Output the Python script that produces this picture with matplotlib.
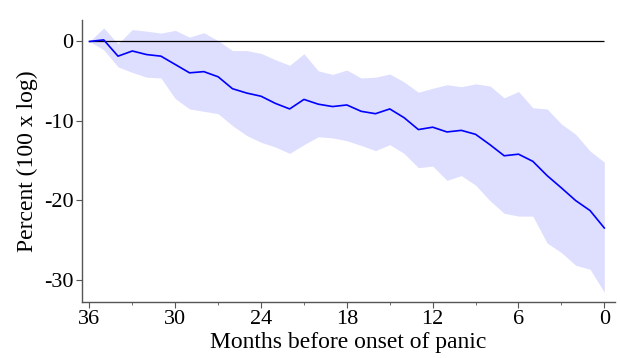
import numpy as np
import matplotlib
matplotlib.use('Agg')
import matplotlib.pyplot as plt

# months before the onset of panic, 36 down to 0
months = list(range(36, -1, -1))

# point estimate (percent, 100 x log)
estimate = [0.0, 0.2, -1.85, -1.2, -1.65, -1.85, -2.9, -3.95, -3.8, -4.45,
            -5.95, -6.5, -6.9, -7.8, -8.5, -7.3, -7.9, -8.2, -8.0, -8.8,
            -9.1, -8.5, -9.6, -11.1, -10.8, -11.4, -11.2, -11.7, -13.0, -14.4,
            -14.2, -15.1, -16.9, -18.45, -20.05, -21.3, -23.5]

# confidence band
upper = [0.0, 1.7, -0.3, 1.5, 1.3, 1.05, 1.4, 0.55, 1.1, 0.1,
         -1.15, -1.15, -1.5, -2.3, -3.0, -1.55, -3.7, -4.15, -3.6, -4.6,
         -4.5, -4.1, -5.1, -6.4, -5.9, -5.45, -5.7, -5.35, -5.6, -7.1,
         -6.3, -8.35, -8.5, -10.4, -11.7, -13.8, -15.2]
lower = [0.0, -1.05, -3.2, -3.9, -4.5, -4.6, -7.2, -8.5, -8.8, -9.1,
         -10.6, -11.85, -12.7, -13.3, -14.1, -13.0, -12.0, -12.15, -12.5, -13.1,
         -13.75, -13.0, -14.1, -15.9, -15.7, -17.5, -16.9, -18.1, -20.05, -21.65,
         -22.0, -22.0, -25.4, -26.6, -28.2, -28.7, -31.6]

plt.rcParams['font.family'] = ['Liberation Serif', 'DejaVu Serif']
plt.rcParams['axes.unicode_minus'] = False

fig = plt.figure(figsize=(6.2, 3.58), dpi=100)
ax = fig.add_axes([0.132, 0.157, 0.86, 0.787])

ax.fill_between(months, lower, upper, color='#dedeff', linewidth=0)
ax.hlines(0, 36, 0, color='black', linewidth=0.9)
ax.plot(months, estimate, color='#0000ff', linewidth=1.2)

ax.set_xlim(36.53, -0.75)
ax.set_ylim(-32.8, 2.7)
ax.set_xticks([36, 30, 24, 18, 12, 6, 0])
ax.set_xticks(range(33, 0, -6), minor=True)
ax.set_yticks([0, -10, -20, -30])

for side in ['top', 'right']:
    ax.spines[side].set_visible(False)
for side in ['left', 'bottom']:
    ax.spines[side].set_color('#555555')
    ax.spines[side].set_linewidth(1.0)

ax.tick_params(axis='both', which='major', direction='out', length=4,
               color='#555555', labelsize=16, pad=2)
ax.tick_params(axis='x', which='minor', direction='out', length=2.5, color='#555555')

ax.set_xlabel('Months before onset of panic', fontsize=17, labelpad=2)
ax.set_ylabel('Percent (100 x log)', fontsize=17, labelpad=4)

fig.savefig('out.png', dpi=100)
